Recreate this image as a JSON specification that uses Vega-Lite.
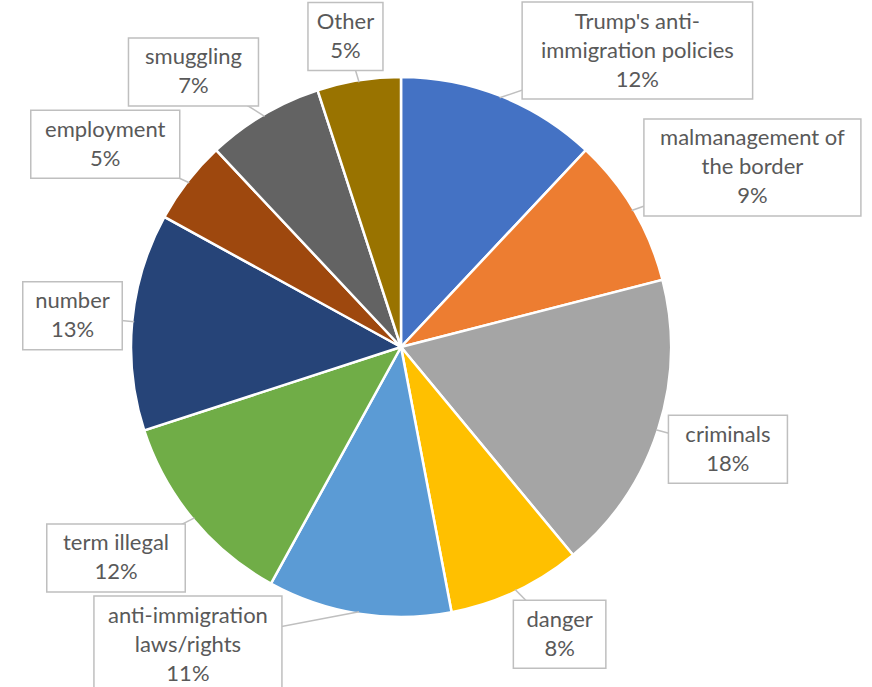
{
  "$schema": "https://vega.github.io/schema/vega-lite/v6.json",
  "width": 802,
  "height": 680,
  "autosize": {"type": "none"},
  "padding": {"left": 0, "top": 7, "right": 70, "bottom": 0},
  "background": "white",
  "view": {"stroke": null},
  "config": {"font": "Lato"},
  "data": {
    "values": [
      {"name": "Trump's anti-\nimmigration policies", "value": 12},
      {"name": "malmanagement of\nthe border", "value": 9},
      {"name": "criminals", "value": 18},
      {"name": "danger", "value": 8},
      {"name": "anti-immigration\nlaws/rights", "value": 11},
      {"name": "term illegal", "value": 12},
      {"name": "number", "value": 13},
      {"name": "employment", "value": 5},
      {"name": "smuggling", "value": 7},
      {"name": "Other", "value": 5}
    ]
  },
  "transform": [
    {"window": [{"op": "row_number", "as": "idx"}]},
    {"joinaggregate": [{"op": "sum", "field": "value", "as": "total"}]},
    {"window": [{"op": "sum", "field": "value", "as": "cum"}], "sort": [{"field": "idx"}], "frame": [null, 0]},
    {"calculate": "2*PI*(datum.cum - datum.value/2)/datum.total", "as": "mid"},
    {"calculate": "datum.name + '\\n' + format(datum.value/datum.total, '.0%')", "as": "txt"},
    {"calculate": "split(datum.txt, '\\n')", "as": "lines"},
    {"calculate": "length(datum.lines)", "as": "nl"},
    {"calculate": "datum.lines[0]", "as": "l0"},
    {"calculate": "datum.nl > 1 ? datum.lines[1] : ''", "as": "l1"},
    {"calculate": "datum.nl > 2 ? datum.lines[2] : ''", "as": "l2"},
    {"calculate": "12*length(datum.l0) + 7*length(replace(datum.l0, regexp('[^mwMW]', 'g'), '')) - 5.5*length(replace(datum.l0, regexp(\"[^iltjfr' /.,-]\", 'g'), ''))", "as": "w0"},
    {"calculate": "12*length(datum.l1) + 7*length(replace(datum.l1, regexp('[^mwMW]', 'g'), '')) - 5.5*length(replace(datum.l1, regexp(\"[^iltjfr' /.,-]\", 'g'), ''))", "as": "w1"},
    {"calculate": "12*length(datum.l2) + 7*length(replace(datum.l2, regexp('[^mwMW]', 'g'), '')) - 5.5*length(replace(datum.l2, regexp(\"[^iltjfr' /.,-]\", 'g'), ''))", "as": "w2"},
    {"calculate": "max(datum.w0, datum.w1, datum.w2)/2 + 13", "as": "hw"},
    {"calculate": "datum.nl*14.5 + 5", "as": "hh"},
    {"calculate": "sin(datum.mid)", "as": "sn"},
    {"calculate": "cos(datum.mid)", "as": "cs"},
    {"calculate": "clamp(280*(-datum.cs) + datum.hh*clamp(-1.5*datum.cs, -1, 1), -345 + datum.hh, 346 - datum.hh)", "as": "by"},
    {"calculate": "datum.by - datum.hh > 0 ? datum.by - datum.hh : (datum.by + datum.hh < 0 ? datum.by + datum.hh : 0)", "as": "ynear"},
    {"calculate": "280*datum.sn + datum.hw*clamp(2*datum.sn, -1, 1)", "as": "bx0"},
    {"calculate": "(datum.sn >= 0 ? 1 : -1) * max(abs(datum.bx0), datum.hw + sqrt(max(0, 276*276 - datum.ynear*datum.ynear)))", "as": "bx"},
    {"calculate": "datum.bx - datum.hw", "as": "bx1"},
    {"calculate": "datum.bx + datum.hw", "as": "bx2"},
    {"calculate": "datum.by - datum.hh", "as": "by1"},
    {"calculate": "datum.by + datum.hh", "as": "by2"},
    {"calculate": "datum.by - (datum.nl - 1)*14.5", "as": "ty"},
    {"calculate": "268*datum.sn", "as": "px"},
    {"calculate": "-268*datum.cs", "as": "py"}
  ],
  "layer": [
    {
      "mark": {"type": "arc", "outerRadius": 270, "stroke": "white", "strokeWidth": 2.5},
      "encoding": {
        "theta": {"field": "value", "type": "quantitative", "stack": true},
        "order": {"field": "idx", "type": "quantitative"},
        "color": {
          "field": "name",
          "type": "nominal",
          "sort": null,
          "legend": null,
          "scale": {"range": ["#4472C4", "#ED7D31", "#A5A5A5", "#FFC000", "#5B9BD5", "#70AD47", "#264478", "#9E480E", "#636363", "#997300"]}
        }
      }
    },
    {
      "mark": {"type": "rule", "color": "#BFBFBF", "strokeWidth": 1.5},
      "encoding": {
        "x": {"field": "px", "type": "quantitative", "scale": {"domain": [-401, 401], "nice": false, "zero": false}, "axis": null},
        "y": {"field": "py", "type": "quantitative", "scale": {"domain": [-340, 340], "nice": false, "zero": false, "reverse": true}, "axis": null},
        "x2": {"field": "bx"},
        "y2": {"field": "by"}
      }
    },
    {
      "mark": {"type": "rect", "fill": "white", "stroke": "#BFBFBF", "strokeWidth": 1.5},
      "encoding": {
        "x": {"field": "bx1", "type": "quantitative", "scale": {"domain": [-401, 401], "nice": false, "zero": false}, "axis": null},
        "x2": {"field": "bx2"},
        "y": {"field": "by1", "type": "quantitative", "scale": {"domain": [-340, 340], "nice": false, "zero": false, "reverse": true}, "axis": null},
        "y2": {"field": "by2"}
      }
    },
    {
      "mark": {"type": "text", "font": "Lato", "fontSize": 22, "color": "#595959", "lineBreak": "\n", "lineHeight": 29, "align": "center", "baseline": "middle"},
      "encoding": {
        "x": {"field": "bx", "type": "quantitative", "scale": {"domain": [-401, 401], "nice": false, "zero": false}, "axis": null},
        "y": {"field": "ty", "type": "quantitative", "scale": {"domain": [-340, 340], "nice": false, "zero": false, "reverse": true}, "axis": null},
        "text": {"field": "txt"}
      }
    }
  ]
}
